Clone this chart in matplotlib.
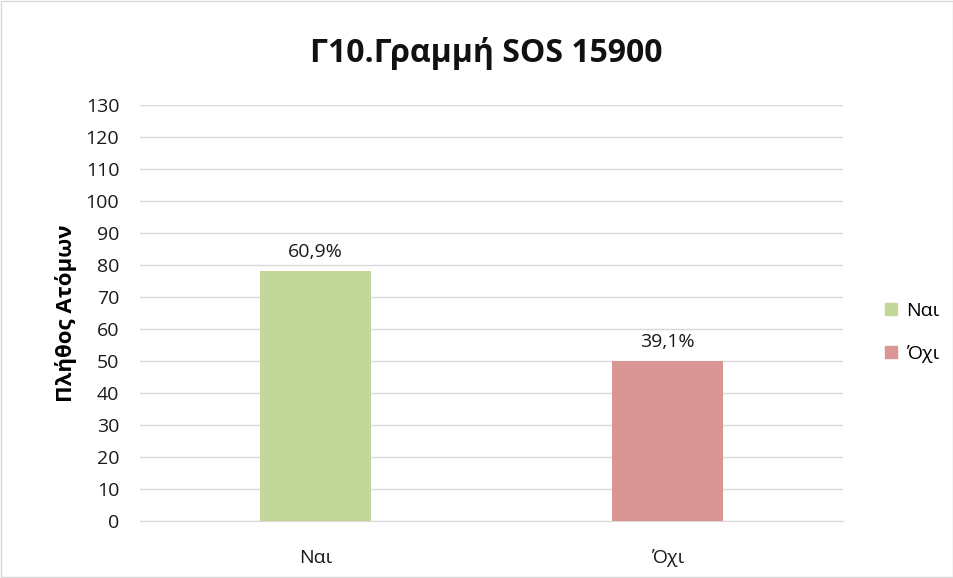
import matplotlib
matplotlib.use("Agg")
from matplotlib import pyplot as plt
from matplotlib.patches import Patch

categories = ["Ναι", "Όχι"]
counts = [78, 50]
labels = ["60,9%", "39,1%"]
colors = ["#c4d79b", "#da9694"]

plt.rcParams["font.family"] = ["Open Sans", "DejaVu Sans"]

fig = plt.figure(figsize=(9.54, 5.78), dpi=100)
ax = fig.add_axes([0.1468, 0.0986, 0.7368, 0.7197])

x = range(len(categories))
bars = ax.bar(x, counts, width=0.316, color=colors, zorder=3)
for b, t in zip(bars, labels):
    ax.text(b.get_x() + b.get_width() / 2, b.get_height() + 3.2, t,
            ha="center", va="bottom", fontsize=14, color="#1a1a1a")

ax.set_xlim(-0.5, 1.5)
ax.set_ylim(0, 130)
ax.set_yticks(range(0, 131, 10))
ax.set_xticks(list(x))
ax.set_xticklabels(categories)
ax.tick_params(axis="both", length=0, labelsize=14, colors="#1a1a1a")
ax.tick_params(axis="y", pad=15)
ax.tick_params(axis="x", pad=20)
ax.grid(axis="y", color="#d9d9d9", linewidth=1, zorder=0)
for s in ["top", "right", "left"]:
    ax.spines[s].set_visible(False)
ax.spines["bottom"].set_color("#d9d9d9")

ax.set_ylabel("Πλήθος Ατόμων", fontsize=16, fontweight="bold", labelpad=6)
fig.text(0.51, 0.908, "Γ10.Γραμμή SOS 15900", ha="center", va="center",
         fontsize=23, fontweight="bold", color="#111111")

handles = [Patch(color=c) for c in colors]
fig.legend(handles, categories, loc="center left", bbox_to_anchor=(0.928, 0.425),
           frameon=False, fontsize=14, handlelength=0.6, handleheight=0.6,
           handletextpad=0.45, labelspacing=1.3, borderpad=0, borderaxespad=0)

fig.add_artist(plt.Rectangle((0.001, 0.001), 0.998, 0.998, transform=fig.transFigure,
                             fill=False, edgecolor="#d9d9d9", linewidth=1))

fig.savefig("out.png", dpi=100)
